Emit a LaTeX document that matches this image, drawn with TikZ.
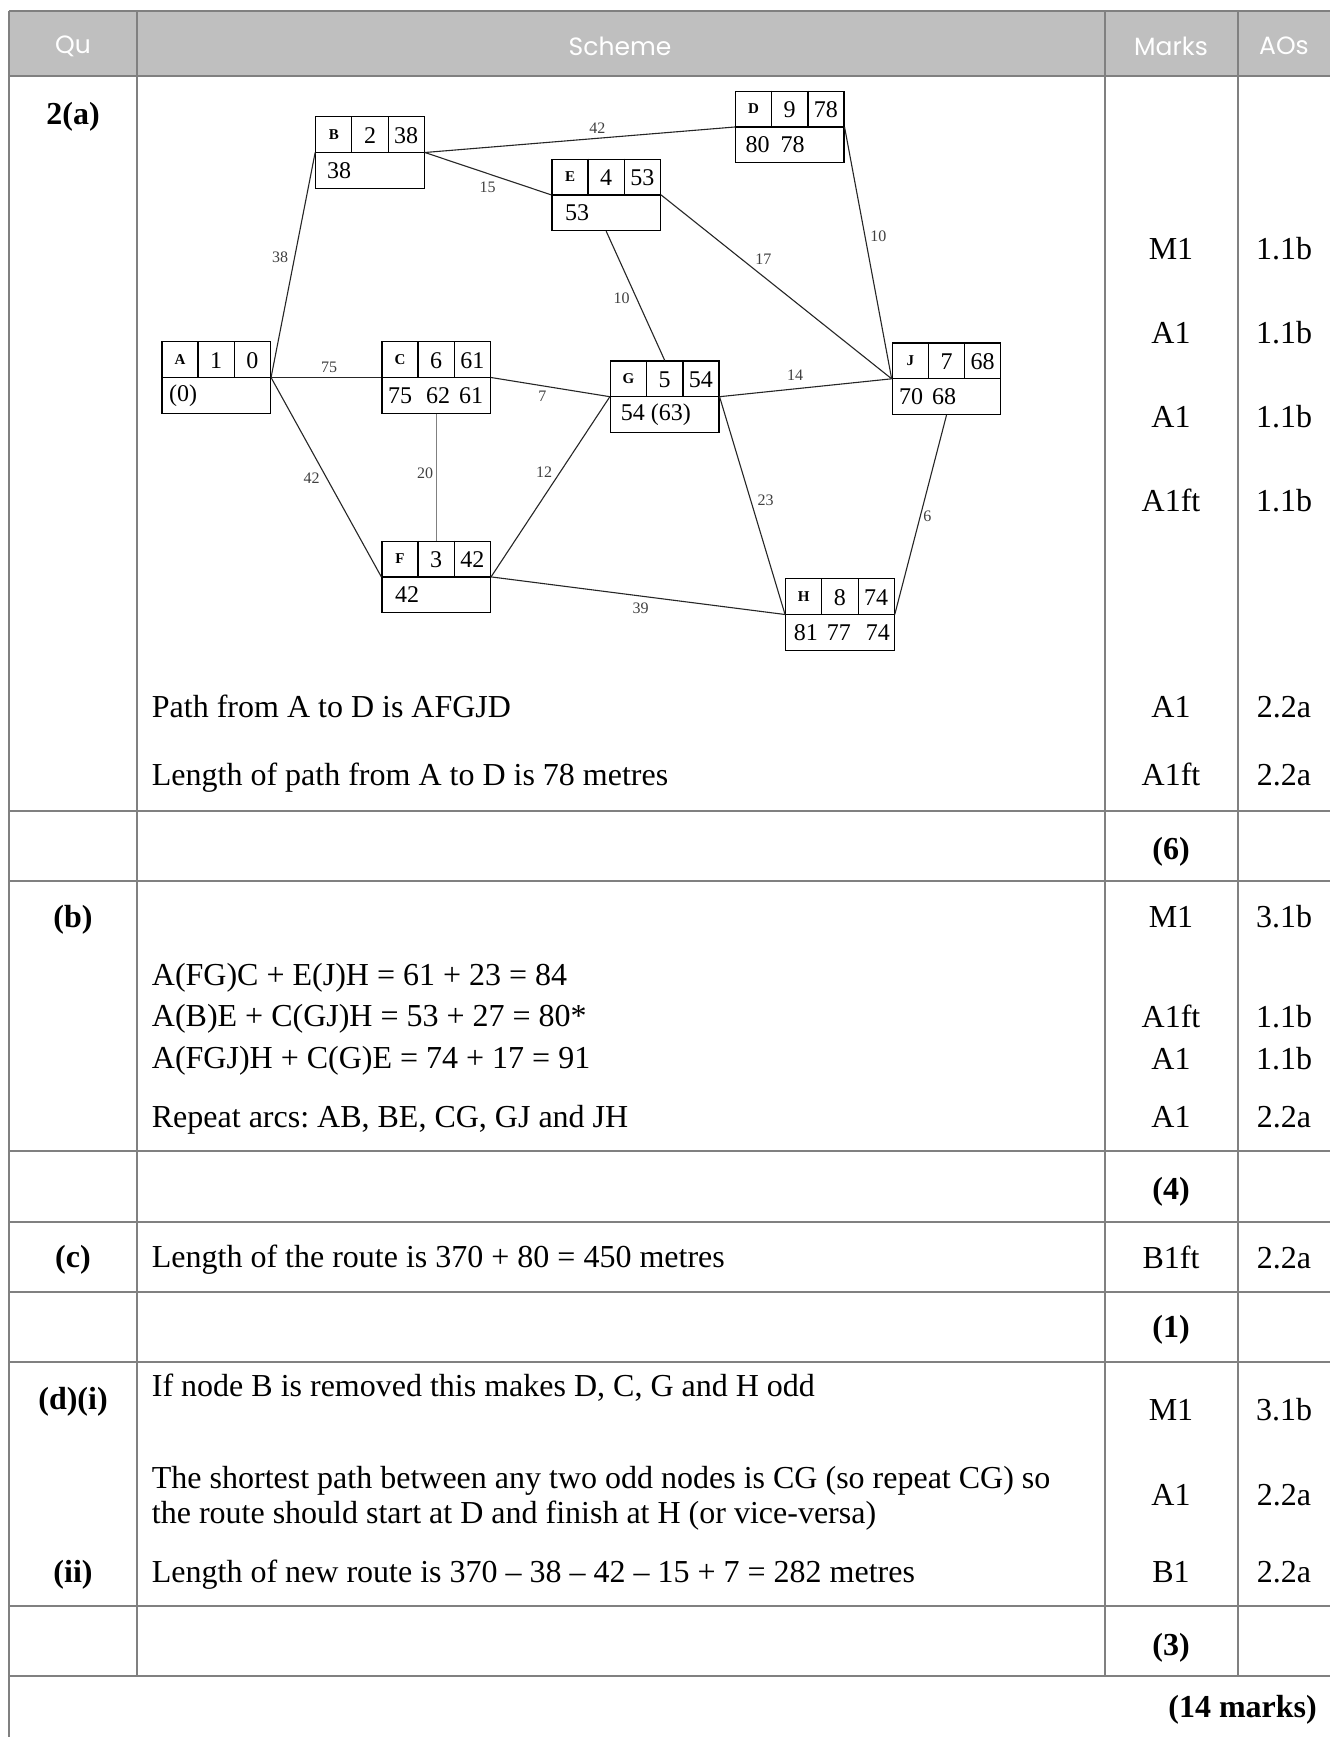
\documentclass[tikz,border=0pt]{standalone}
\usepackage{fontspec}
\setmainfont{Liberation Serif}
\newfontfamily\hdrfont{Poppins}
\usetikzlibrary{calc}
\definecolor{hdrgray}{HTML}{BFBFBF}
\definecolor{rulegray}{HTML}{808080}
\frenchspacing
\begin{document}
\begin{tikzpicture}[x=1pt,y=-1pt,
  rule/.style={draw=rulegray,line width=2pt},
  hdr/.style={font=\hdrfont\fontsize{25}{30}\selectfont,text=white,inner sep=0},
  body/.style={font=\fontsize{32}{38}\selectfont,inner sep=0,anchor=base west},
  mk/.style={font=\fontsize{32}{38}\selectfont,inner sep=0,anchor=base},
  bmk/.style={font=\fontsize{32}{38}\selectfont\bfseries,inner sep=0,anchor=base},
  cbox/.style={draw,line width=1.2pt,rectangle,minimum width=108.5pt,minimum height=71.5pt,inner sep=0},
  cline/.style={line width=1.2pt},
  cletter/.style={font=\fontsize{15}{17}\selectfont\bfseries,inner sep=0},
  cnum/.style={font=\fontsize{24}{28}\selectfont,inner sep=0},
  edge/.style={line width=1.1pt,draw=black!85},
  elab/.style={font=\fontsize{16}{18}\selectfont,text=black!75,inner sep=0}]
\useasboundingbox (0,0) rectangle (1330,1737);
\fill[white] (0,0) rectangle (1330,1737);
% header
\fill[hdrgray] (9,11) rectangle (1330,76);
\node[hdr] (hQu) at (73,46) {Qu};
\node[hdr] (hScheme) at (620,46) {Scheme};
\node[hdr] (hMarks) at (1171,46) {Marks};
\node[hdr] (hAOs) at (1284,46) {AOs};
% table rules
\foreach \yy in {11,76,811,880.5,1151,1222,1291.5,1361.5,1605.5,1675.5}
  \draw[rule] (9,\yy) -- (1330,\yy);
\draw[rule] (9,11) -- (9,1737);
\foreach \xx in {136.5,1105,1237.5}
  \draw[rule] (\xx,11) -- (\xx,1675.5);

% network boxes
\newcommand\cpmbox[6]{%
  \node[cbox] (#1) at (#2,#3) {};
  \draw[cline] (#1.west) -- (#1.east);
  \draw[cline] ($(#1.north west)!0.33333!(#1.north east)$) -- ($(#1.west)!0.33333!(#1.east)$);
  \draw[cline] ($(#1.north west)!0.66667!(#1.north east)$) -- ($(#1.west)!0.66667!(#1.east)$);
  \node[cletter] (#1-n) at ($(#1.center)+(-36.2,-18)$) {#4};
  \node[cnum] (#1-e) at ($(#1.center)+(0,-17)$) {#5};
  \node[cnum] (#1-l) at ($(#1.center)+(36.2,-17)$) {#6};
}
\cpmbox{A}{216.2}{377.5}{A}{1}{0}
\cpmbox{B}{370}{152.5}{B}{2}{38}
\cpmbox{C}{436.2}{377.5}{C}{6}{61}
\cpmbox{D}{789.7}{127}{D}{9}{78}
\cpmbox{E}{606.2}{194.9}{E}{4}{53}
\cpmbox{F}{436.2}{576.9}{F}{3}{42}
\cpmbox{G}{664.7}{396.7}{G}{5}{54}
\cpmbox{H}{839.9}{614.5}{H}{8}{74}
\cpmbox{J}{946.5}{378.8}{J}{7}{68}
% bottom rows
\node[cnum] (A-b1) at ($(A.center)+(-33,18)$) {(0)};
\node[cnum] (B-b1) at ($(B.center)+(-31,18)$) {38};
\node[cnum] (C-b1) at ($(C.center)+(-36,18)$) {75};
\node[cnum] (C-b2) at ($(C.center)+(2,18)$) {62};
\node[cnum] (C-b3) at ($(C.center)+(35,18)$) {61};
\node[cnum] (D-b1) at ($(D.center)+(-32,18)$) {80};
\node[cnum] (D-b2) at ($(D.center)+(3,18)$) {78};
\node[cnum] (E-b1) at ($(E.center)+(-29,18)$) {53};
\node[cnum] (F-b1) at ($(F.center)+(-29,18)$) {42};
\node[cnum,anchor=west] (G-b1) at ($(G.west)+(10.7,18)$) {54 (63)};
\node[cnum] (H-b1) at ($(H.center)+(-34,18)$) {81};
\node[cnum] (H-b2) at ($(H.center)+(-1,18)$) {77};
\node[cnum] (H-b3) at ($(H.center)+(38,18)$) {74};
\node[cnum] (J-b1) at ($(J.center)+(-35.5,18)$) {70};
\node[cnum] (J-b2) at ($(J.center)+(-2.5,18)$) {68};
% edges
\draw[edge] (A.east) -- (B.west);
\draw[edge] (A.east) -- (C.west);
\draw[edge] (A.east) -- (F.west);
\draw[edge] (B.east) -- (D.west);
\draw[edge] (B.east) -- (E.west);
\draw[edge] (E.east) -- (J.west);
\draw[edge] (E.south) -- (G.north);
\draw[edge] (D.east) -- (J.west);
\draw[edge] (C.east) -- (G.west);
\draw[edge,draw=black!50] (C.south) -- (F.north);
\draw[edge] (F.east) -- (G.west);
\draw[edge] (F.east) -- (H.west);
\draw[edge] (G.east) -- (J.west);
\draw[edge] (G.east) -- (H.west);
\draw[edge] (J.south) -- (H.east);
% edge labels
\node[elab] (lAB) at (280,257.7) {38};
\node[elab] (lAC) at (329,367.3) {75};
\node[elab] (lAF) at (311.7,478.3) {42};
\node[elab] (lBD) at (597.3,128.3) {42};
\node[elab] (lBE) at (487.7,187.7) {15};
\node[elab] (lEJ) at (763.3,259) {17};
\node[elab] (lEG) at (621.7,298.3) {10};
\node[elab] (lDJ) at (878.3,236.7) {10};
\node[elab] (lCG) at (542.3,396.7) {7};
\node[elab] (lCF) at (425,473.3) {20};
\node[elab] (lFG) at (544,471.7) {12};
\node[elab] (lFH) at (640.7,608.3) {39};
\node[elab] (lGJ) at (795,375.7) {14};
\node[elab] (lGH) at (765.7,500) {23};
\node[elab] (lJH) at (927.3,516.7) {6};

% question labels
\node[bmk] (q2a) at (73,124.5) {2(a)};
\node[bmk] (qb) at (73,927.5) {(b)};
\node[bmk] (qc) at (73,1267.5) {(c)};
\node[bmk] (qdi) at (73,1409) {(d)(i)};
\node[bmk] (qii) at (73,1582) {(ii)};
% scheme text
\node[body] (t1) at (151.7,717) {Path from A to D is AFGJD};
\node[body] (t2) at (151.7,785.7) {Length of path from A to D is 78 metres};
\node[body] (t3) at (151.7,985) {A(FG)C + E(J)H = 61 + 23 = 84};
\node[body] (t4) at (151.7,1026) {A(B)E + C(GJ)H = 53 + 27 = 80*};
\node[body] (t5) at (151.7,1068) {A(FGJ)H + C(G)E = 74 + 17 = 91};
\node[body] (t6) at (151.7,1127) {Repeat arcs: AB, BE, CG, GJ and JH};
\node[body] (t7) at (151.7,1267.5) {Length of the route is 370 + 80 = 450 metres};
\node[body] (t8) at (151.7,1396) {If node B is removed this makes D, C, G and H odd};
\node[body] (t9) at (151.7,1488) {The shortest path between any two odd nodes is CG (so repeat CG) so};
\node[body] (t10) at (151.7,1523) {the route should start at D and finish at H (or vice-versa)};
\node[body] (t11) at (151.7,1582) {Length of new route is 370 – 38 – 42 – 15 + 7 = 282 metres};
% marks
\node[mk] (m1) at (1171,259.5) {M1};
\node[mk] (m2) at (1171,343.5) {A1};
\node[mk] (m3) at (1171,427.5) {A1};
\node[mk] (m4) at (1171,511.5) {A1ft};
\node[mk] (m5) at (1171,717) {A1};
\node[mk] (m6) at (1171,785.7) {A1ft};
\node[bmk] (m7) at (1171,859) {(6)};
\node[mk] (m8) at (1171,927.5) {M1};
\node[mk] (m9) at (1171,1027) {A1ft};
\node[mk] (m10) at (1171,1069.5) {A1};
\node[mk] (m11) at (1171,1127) {A1};
\node[bmk] (m12) at (1171,1199) {(4)};
\node[mk] (m13) at (1171,1268) {B1ft};
\node[bmk] (m14) at (1171,1337) {(1)};
\node[mk] (m15) at (1171,1420) {M1};
\node[mk] (m16) at (1171,1505.5) {A1};
\node[mk] (m17) at (1171,1582) {B1};
\node[bmk] (m18) at (1171,1655) {(3)};
% AOs
\node[mk] (a1) at (1284,259.5) {1.1b};
\node[mk] (a2) at (1284,343.5) {1.1b};
\node[mk] (a3) at (1284,427.5) {1.1b};
\node[mk] (a4) at (1284,511.5) {1.1b};
\node[mk] (a5) at (1284,717) {2.2a};
\node[mk] (a6) at (1284,785.7) {2.2a};
\node[mk] (a8) at (1284,927.5) {3.1b};
\node[mk] (a9) at (1284,1027) {1.1b};
\node[mk] (a10) at (1284,1069.5) {1.1b};
\node[mk] (a11) at (1284,1127) {2.2a};
\node[mk] (a13) at (1284,1268) {2.2a};
\node[mk] (a15) at (1284,1420) {3.1b};
\node[mk] (a16) at (1284,1505.5) {2.2a};
\node[mk] (a17) at (1284,1582) {2.2a};
% total
\node[bmk,anchor=base east] (total) at (1317,1717) {(14 marks)};
\end{tikzpicture}
\end{document}
